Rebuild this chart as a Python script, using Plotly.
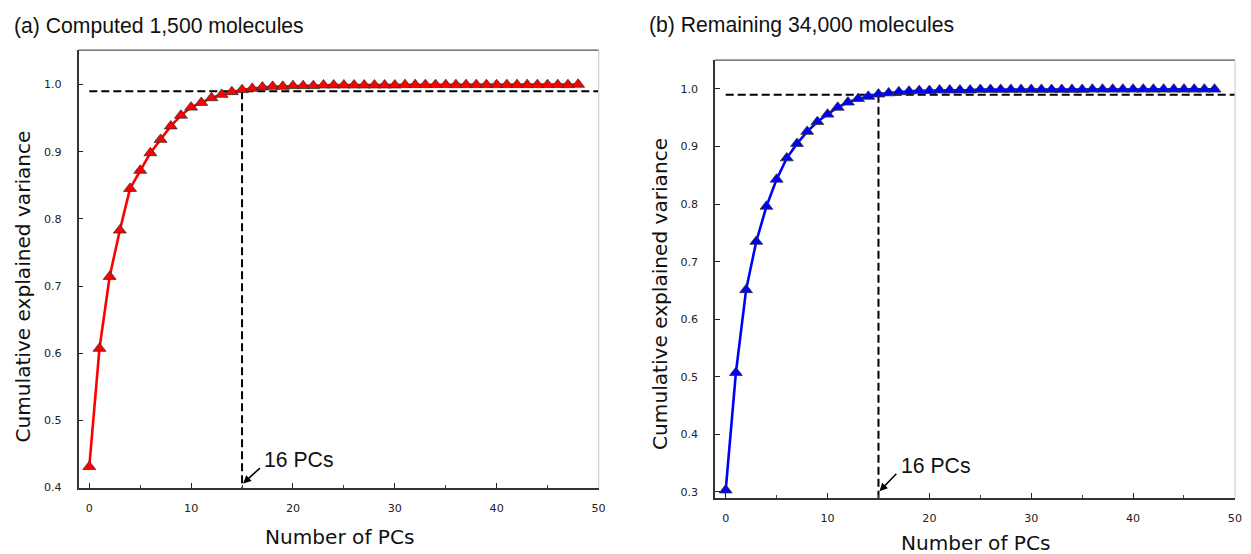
import plotly.graph_objects as go

# ---------------- data ----------------
pcs = list(range(49))

variance_a = [0.431, 0.607, 0.714, 0.783, 0.845, 0.872, 0.898, 0.918, 0.938, 0.954,
              0.966, 0.973, 0.980, 0.985, 0.989, 0.992, 0.994, 0.996, 0.997, 0.997,
              0.998, 0.998, 0.998, 0.999, 0.999, 0.999, 0.999, 0.999, 0.999, 0.999,
              0.999, 0.9995, 0.9995, 0.9995, 0.9995, 0.9995, 0.9995, 0.9995, 0.9995, 0.9995,
              0.9995, 0.9995, 0.9995, 0.9995, 0.9995, 0.9995, 0.9995, 0.9995, 1.0]

variance_b = [0.303, 0.507, 0.651, 0.735, 0.796, 0.843, 0.880, 0.905, 0.926, 0.943,
              0.956, 0.968, 0.977, 0.983, 0.987, 0.991, 0.993, 0.995, 0.996, 0.997,
              0.997, 0.998, 0.998, 0.998, 0.998, 0.999, 0.999, 0.999, 0.999, 0.999,
              0.999, 0.999, 0.999, 0.999, 0.999, 0.999, 0.9995, 0.9995, 0.9995, 0.9995,
              0.9995, 0.9995, 0.9995, 0.9995, 0.9995, 0.9995, 0.9995, 0.9995, 0.9995]

threshold = 0.99
threshold_line_x = [0, 50]
cutoff_pc = 15
cutoff_label = "16 PCs"

title_a = "(a) Computed 1,500 molecules"
title_b = "(b) Remaining 34,000 molecules"
x_title = "Number of PCs"
y_title = "Cumulative explained variance"

yticks_a = [0.4, 0.5, 0.6, 0.7, 0.8, 0.9, 1.0]
yticks_b = [0.3, 0.4, 0.5, 0.6, 0.7, 0.8, 0.9, 1.0]
xticks = [0, 10, 20, 30, 40, 50]

yrange_a = [0.3995, 1.051]
yrange_b = [0.2895, 1.050]

# ---------------- geometry ----------------
# the page keeps its default 8px body margin; the photographed page is fitted vertically
OFF = 8
W, H = 1251, 554
SX = 1.0
SY = H / (H + OFF)


def px(x):
    return (x / SX - OFF) / W


def py(y):
    return 1 - (y / SY - OFF) / H


TICKFONT = dict(family="DejaVu Sans", size=11.1, color="#222")
LABFONT = dict(family="DejaVu Sans", size=20.1, color="#111")
SANS = dict(family="Liberation Sans, Arial", size=21.2, color="#111")

fig = go.Figure()


def add_panel(xa, ya, values, color, ymin):
    fig.add_trace(go.Scatter(x=threshold_line_x, y=[threshold, threshold], mode="lines",
                             line=dict(color="black", width=2, dash="8px,4px"),
                             xaxis=xa, yaxis=ya, hoverinfo="skip"))
    fig.add_trace(go.Scatter(x=[cutoff_pc, cutoff_pc], y=[threshold, ymin], mode="lines",
                             line=dict(color="black", width=2, dash="8px,4px"),
                             xaxis=xa, yaxis=ya, hoverinfo="skip"))
    fig.add_trace(go.Scatter(x=pcs, y=values, mode="lines+markers",
                             line=dict(color=color, width=2.6),
                             marker=dict(symbol="triangle-up", size=11.2, color=color,
                                         line=dict(color="#333", width=0.8)),
                             xaxis=xa, yaxis=ya, cliponaxis=False))


add_panel("x", "y", variance_a, "#ff0000", yrange_a[0])
add_panel("x2", "y2", variance_b, "#0000ff", yrange_b[0])


def xaxis_cfg(domain, anchor):
    return dict(domain=domain, anchor=anchor, range=[-1.05, 50.02], tickvals=xticks,
                ticks="inside", ticklen=5, tickwidth=1.2, tickcolor="#222",
                minor=dict(dtick=5, tick0=0, ticks="inside", ticklen=3, tickcolor="#444", tickwidth=1),
                showline=True, linecolor="#333", linewidth=1.5, mirror=False,
                showgrid=False, zeroline=False, tickfont=TICKFONT, ticklabelstandoff=9)


def yaxis_cfg(domain, anchor, rng, tv):
    return dict(domain=domain, anchor=anchor, range=rng, tickvals=tv, tickformat=".1f",
                ticks="inside", ticklen=5, tickwidth=1.2, tickcolor="#222",
                showline=True, linecolor="#333", linewidth=1.5, mirror=False,
                showgrid=False, zeroline=False, tickfont=TICKFONT, ticklabelstandoff=13)


fig.update_layout(
    width=W, height=H, margin=dict(l=0, r=0, t=0, b=0),
    paper_bgcolor="white", plot_bgcolor="white", showlegend=False,
    xaxis=xaxis_cfg([px(79), px(602)], "y"),
    yaxis=yaxis_cfg([py(487), py(50)], "x", yrange_a, yticks_a),
    xaxis2=xaxis_cfg([px(719), px(1242)], "y2"),
    yaxis2=yaxis_cfg([py(497), py(60)], "x2", yrange_b, yticks_b),
)

for xd, yd in [("x domain", "y domain"), ("x2 domain", "y2 domain")]:
    fig.add_shape(type="line", xref=xd, yref=yd, x0=0, x1=1, y0=1, y1=1,
                  line=dict(color="#555", width=1.2))
    fig.add_shape(type="line", xref=xd, yref=yd, x0=1, x1=1, y0=0, y1=1,
                  line=dict(color="#cfcfcf", width=1.2))

ann = []
ann.append(dict(text=title_a, xref="paper", yref="paper", x=px(12), y=py(26),
                xanchor="left", yanchor="middle", showarrow=False, font=SANS))
ann.append(dict(text=title_b, xref="paper", yref="paper", x=px(651), y=py(25),
                xanchor="left", yanchor="middle", showarrow=False, font=SANS))
ann.append(dict(text=x_title, xref="paper", yref="paper", x=px(341), y=py(536),
                xanchor="center", yanchor="middle", showarrow=False, font=LABFONT))
ann.append(dict(text=x_title, xref="paper", yref="paper", x=px(981), y=py(542),
                xanchor="center", yanchor="middle", showarrow=False, font=LABFONT))
ann.append(dict(text=y_title, xref="paper", yref="paper", x=px(23), y=py(286),
                xanchor="center", yanchor="middle", textangle=-90, showarrow=False, font=LABFONT))
ann.append(dict(text=y_title, xref="paper", yref="paper", x=px(663), y=py(293),
                xanchor="center", yanchor="middle", textangle=-90, showarrow=False, font=LABFONT))
ann.append(dict(text=cutoff_label, xref="x", yref="y", x=17.0, y=0.442,
                xanchor="left", yanchor="middle", showarrow=False, font=SANS))
ann.append(dict(text="", xref="x", yref="y", x=15.1, y=0.406, axref="x", ayref="y",
                ax=16.9, ay=0.431, showarrow=True, arrowhead=2, arrowsize=1,
                arrowwidth=1.6, arrowcolor="black"))
ann.append(dict(text=cutoff_label, xref="x2", yref="y2", x=17.0, y=0.346,
                xanchor="left", yanchor="middle", showarrow=False, font=SANS))
ann.append(dict(text="", xref="x2", yref="y2", x=15.1, y=0.301, axref="x2", ayref="y2",
                ax=16.9, ay=0.334, showarrow=True, arrowhead=2, arrowsize=1,
                arrowwidth=1.6, arrowcolor="black"))
fig.update_layout(annotations=ann)

fig.write_html("out.html")
